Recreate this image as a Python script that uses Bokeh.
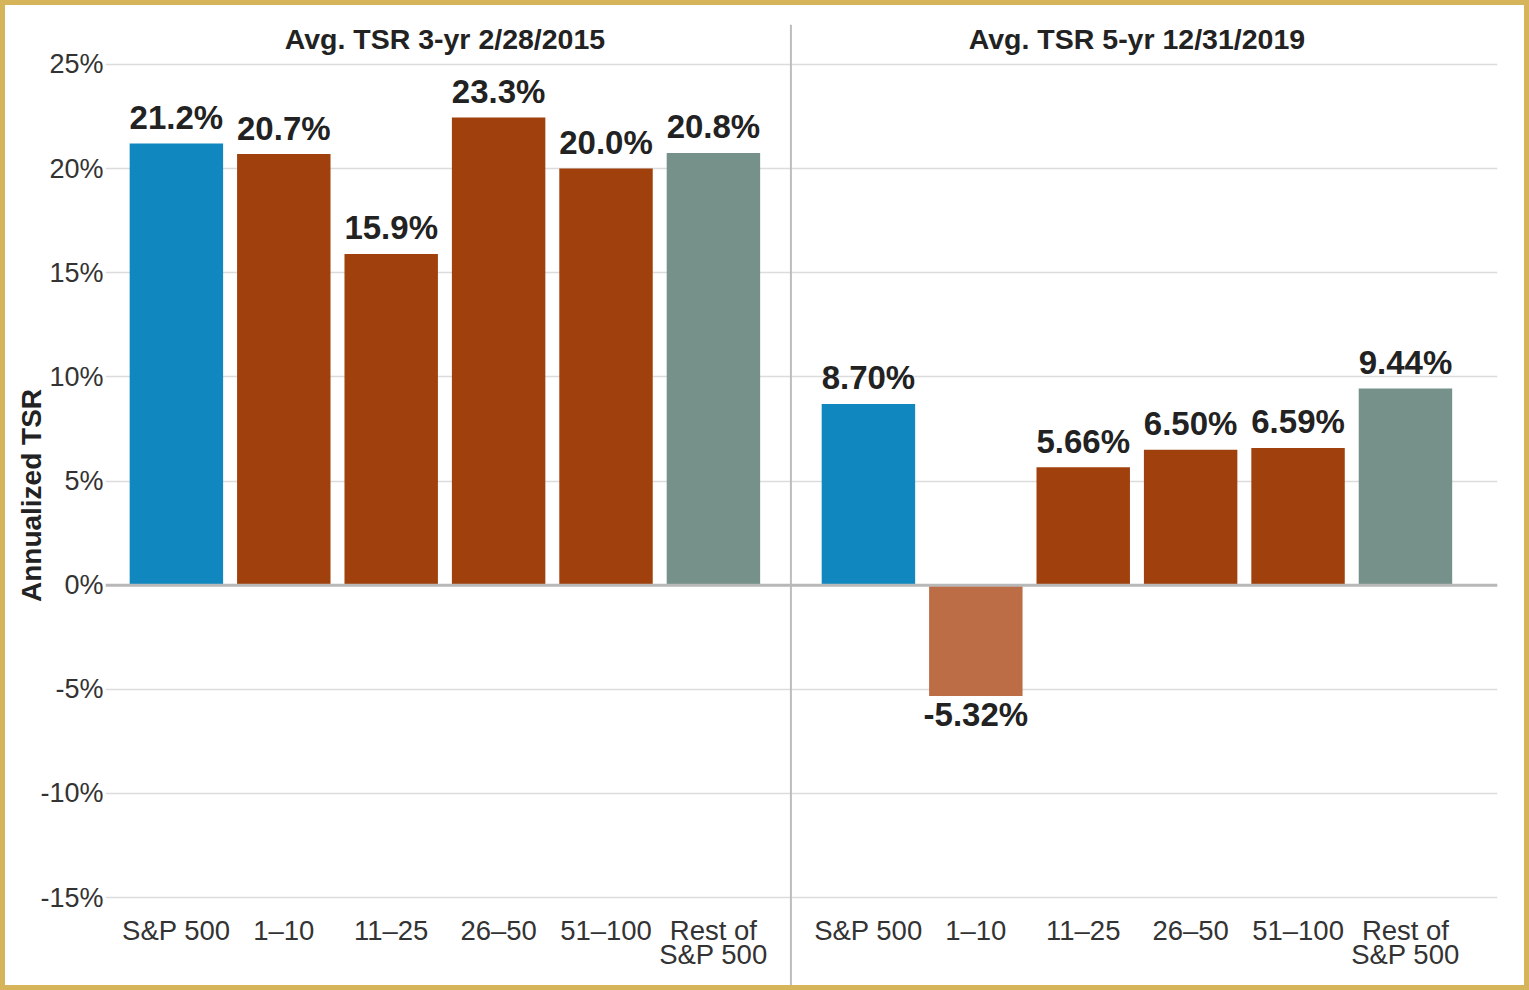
from bokeh.plotting import figure
from bokeh.models import ColumnDataSource, FixedTicker, PrintfTickFormatter, Span, Range1d
from bokeh.core.properties import value
from bokeh.embed import file_html
from bokeh.resources import INLINE

# ---------------- data ----------------
panel_titles = ["Avg. TSR 3-yr 2/28/2015", "Avg. TSR 5-yr 12/31/2019"]
categories = ["S&P 500", "1\u201310", "11\u201325", "26\u201350", "51\u2013100", "Rest of\nS&P 500"]
category_kind = ["index", "tier", "tier", "tier", "tier", "rest"]
tsr_3yr = [21.2, 20.7, 15.9, 22.45, 20.0, 20.75]          # bar heights as drawn
tsr_3yr_labels = ["21.2%", "20.7%", "15.9%", "23.3%", "20.0%", "20.8%"]
tsr_5yr = [8.70, -5.32, 5.66, 6.50, 6.59, 9.44]
tsr_5yr_labels = ["8.70%", "-5.32%", "5.66%", "6.50%", "6.59%", "9.44%"]
y_ticks = [-15, -10, -5, 0, 5, 10, 15, 20, 25]

# ---------------- style ----------------
FONT = "Liberation Sans"
kind_colors = {"index": "#1087BF", "tier": "#A0410D", "rest": "#75918A"}
NEG_COLOR = "#BD6D45"
GROUP_GAP = 1.443
BAR_W = 0.87

n = len(categories)
x_left = [float(i) for i in range(n)]
x_right = [i + n - 1 + GROUP_GAP for i in range(n)]

xs = x_left + x_right
vals = tsr_3yr + tsr_5yr
labels = tsr_3yr_labels + tsr_5yr_labels
cats = categories + categories
colors = []
for k, v in zip(category_kind + category_kind, vals):
    colors.append(NEG_COLOR if v < 0 else kind_colors[k])
label_offsets = [-26 if v >= 0 else 19 for v in vals]

src = ColumnDataSource(dict(x=xs, top=vals, color=colors, label=labels,
                            loff=label_offsets, cat=cats,
                            cat_y=[min(y_ticks)] * len(xs)))

Y0, Y1 = -19.22, 27.83
p = figure(width=1529, height=990, output_backend="svg", toolbar_location=None,
           x_range=Range1d(-0.66, x_right[-1] + 0.857),
           y_range=Range1d(Y0, Y1),
           x_axis_location=None,
           min_border_left=100, min_border_right=37,
           min_border_top=0, min_border_bottom=10)
p.styles = {"border": "5px solid #D6B45A"}
p.outline_line_color = None
p.background_fill_color = "white"
p.border_fill_color = "white"

p.xgrid.visible = False
p.ygrid.ticker = FixedTicker(ticks=y_ticks)
p.ygrid.grid_line_color = "#DCDCDC"
p.ygrid.grid_line_width = 1.5

ax = p.yaxis[0]
ax.ticker = FixedTicker(ticks=y_ticks)
ax.formatter = PrintfTickFormatter(format="%d%%")
ax.axis_line_color = None
ax.major_tick_line_color = None
ax.minor_tick_line_color = None
ax.major_tick_out = 0
ax.major_label_standoff = 2
ax.major_label_text_font = FONT
ax.major_label_text_font_size = "27px"
ax.major_label_text_color = "#333333"
ax.axis_label = "Annualized TSR"
ax.axis_label_text_font = FONT
ax.axis_label_text_font_style = "bold"
ax.axis_label_text_font_size = "28px"
ax.axis_label_text_color = "#222222"
ax.axis_label_standoff = -10

# bars
p.vbar(x="x", top="top", bottom=0, width=BAR_W, fill_color="color",
       line_color=None, source=src)

# zero line
p.add_layout(Span(location=0, dimension="width", line_color="#B8B8B8", line_width=3))

# panel separator
sep_x = (x_left[-1] + x_right[0]) / 2
p.segment(x0=[sep_x], y0=[26.9], x1=[sep_x], y1=[Y0],
          line_color="#BDBDBD", line_width=2)

# value labels
p.text(x="x", y="top", text="label", y_offset="loff", source=src,
       text_align="center", text_baseline="alphabetic",
       text_font=value(FONT), text_font_style="bold", text_font_size="33px",
       text_color="#222222")

# category labels
p.text(x="x", y="cat_y", text="cat", source=src, y_offset=17,
       text_align="center", text_baseline="top", text_line_height=0.8,
       text_font=value(FONT), text_font_size="27.5px", text_color="#333333")

# panel titles
title_x = [(x_left[0] + x_left[-1]) / 2, (x_right[0] + x_right[-1]) / 2]
p.text(x=title_x, y=[max(y_ticks)] * 2, text=panel_titles, y_offset=-25,
       text_align="center", text_baseline="alphabetic",
       text_font=value(FONT), text_font_style="bold", text_font_size="28.5px",
       text_color="#222222")

open("out.html", "w").write(file_html(p, INLINE))
